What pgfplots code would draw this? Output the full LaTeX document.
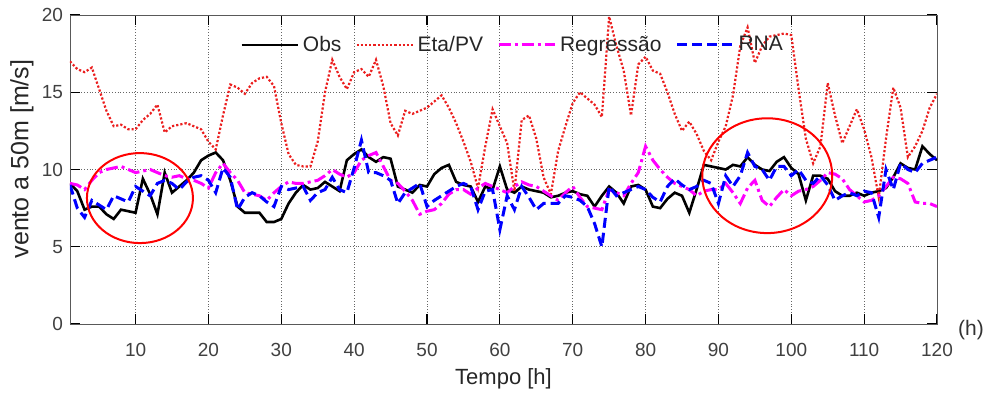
\documentclass[border=0pt]{standalone}
\usepackage{fontspec}
\setmainfont{Liberation Sans}
\usepackage{pgfplots}
\usepackage{pgfplotstable}
\pgfplotsset{compat=1.18}
\pgfplotstableread{
h obs eta reg rna
1 9.1 17.0 9.1 9.0
2 8.6 16.5 9.0 7.5
3 7.4 16.3 8.7 6.9
4 7.6 16.6 9.3 8.0
5 7.6 15.2 9.8 7.7
6 7.1 13.8 10.0 7.4
7 6.8 12.8 10.1 8.3
8 7.4 12.9 10.2 8.1
9 7.3 12.6 10.0 7.9
10 7.2 12.6 9.8 8.9
11 9.4 13.2 9.9 8.6
12 8.4 13.6 10.0 8.3
13 7.1 14.2 9.8 9.1
14 9.8 12.4 9.6 9.3
15 8.5 12.8 9.5 9.1
16 8.9 12.9 9.6 8.7
17 9.3 13.0 9.4 9.2
18 9.8 12.8 9.3 9.5
19 10.6 12.6 9.1 9.6
20 10.9 11.8 8.8 9.3
21 11.1 11.3 9.8 8.5
22 10.6 13.5 10.4 10.1
23 9.3 15.5 9.8 9.5
24 7.6 15.3 9.3 7.4
25 7.2 14.9 8.5 8.2
26 7.2 15.6 8.4 8.5
27 7.2 15.9 8.3 8.3
28 6.6 16.0 8.0 7.9
29 6.6 15.4 8.5 7.6
30 6.8 13.0 8.9 8.9
31 7.8 11.0 9.2 8.7
32 8.5 10.3 9.1 8.8
33 9.0 10.2 9.1 8.9
34 8.7 10.2 9.2 8.0
35 8.8 11.8 9.3 8.5
36 9.2 15.0 9.6 8.7
37 8.9 17.1 10.0 9.5
38 8.6 16.0 9.7 8.7
39 10.6 15.2 9.5 8.5
40 11.0 16.3 9.8 10.1
41 11.3 16.5 10.6 11.9
42 10.8 16.0 10.9 9.8
43 10.5 17.1 11.1 9.8
44 10.8 15.4 10.2 9.6
45 10.7 13.0 9.3 9.3
46 8.9 12.2 9.1 7.8
47 8.7 13.8 8.6 8.5
48 8.5 13.6 8.0 8.8
49 9.0 13.8 7.1 9.1
50 8.9 14.0 7.3 7.6
51 9.7 14.4 7.4 8.0
52 10.1 14.8 7.8 8.3
53 10.3 14.0 8.4 8.6
54 9.2 13.0 8.7 8.9
55 9.0 11.8 8.7 9.1
56 8.9 10.5 8.4 8.9
57 7.9 8.8 8.8 7.4
58 8.9 11.5 9.1 8.6
59 8.7 13.9 8.9 8.7
60 10.2 12.8 8.7 6.1
61 8.7 11.7 8.5 8.3
62 8.5 8.6 8.9 7.4
63 8.9 13.2 9.2 8.9
64 8.7 13.5 9.0 8.2
65 8.6 12.0 8.9 7.4
66 8.5 9.5 8.6 7.8
67 8.2 8.4 8.3 7.8
68 8.3 11.2 8.0 7.8
69 8.5 12.8 8.5 8.3
70 8.6 14.3 8.9 8.2
71 8.4 15.0 8.2 8.0
72 8.3 14.6 7.6 7.6
73 7.6 14.2 7.5 6.5
74 8.3 13.4 7.4 5.0
75 8.9 19.9 8.7 8.9
76 8.5 18.0 8.5 8.3
77 7.8 16.4 8.3 8.5
78 8.9 13.5 9.1 8.7
79 9.0 16.8 9.8 8.9
80 8.7 17.3 11.5 8.7
81 7.6 16.4 10.6 8.2
82 7.5 16.2 10.0 7.9
83 8.1 15.0 9.5 8.9
84 8.5 13.6 9.1 9.4
85 8.3 12.5 8.9 9.0
86 7.2 13.1 8.7 8.7
87 8.7 12.3 8.3 8.9
88 10.3 11.2 8.6 9.3
89 10.2 10.6 8.7 9.1
90 10.1 11.8 8.7 7.8
91 10.0 12.8 9.1 9.6
92 10.3 14.8 8.5 8.9
93 10.2 18.0 7.8 9.6
94 10.8 19.2 8.8 11.1
95 10.3 16.9 9.3 10.2
96 10.0 18.0 8.0 10.0
97 9.9 18.6 7.6 9.3
98 10.5 18.7 8.2 10.2
99 10.8 18.8 8.7 10.2
100 10.1 18.7 8.3 9.6
101 9.7 15.2 8.6 10.0
102 8.0 12.0 8.7 9.3
103 9.6 10.4 8.9 9.1
104 9.6 11.5 9.3 9.6
105 9.4 15.6 9.8 9.0
106 8.6 13.5 9.7 8.0
107 8.3 11.7 9.4 8.3
108 8.3 12.8 8.7 8.5
109 8.5 13.9 8.3 8.3
110 8.3 12.6 7.9 8.6
111 8.5 10.8 8.0 8.5
112 8.6 8.2 8.3 6.9
113 8.8 12.0 8.9 10.0
114 9.5 15.3 9.5 8.7
115 10.4 14.0 9.4 10.4
116 10.1 10.8 9.1 10.0
117 10.0 11.5 7.9 9.8
118 11.5 12.5 7.8 10.4
119 11.0 14.0 7.8 10.6
120 10.6 14.9 7.6 10.8
}\datatable
\definecolor{etared}{RGB}{235,30,30}
\definecolor{regmag}{RGB}{255,0,255}
\definecolor{rnablue}{RGB}{0,0,255}
\begin{document}
\begin{tikzpicture}
\begin{axis}[
  scale only axis,
  width=433.5pt, height=154.5pt,
  xmin=1, xmax=120, ymin=0, ymax=20,
  xtick={10,20,...,120},
  ytick={0,5,10,15,20},
  tick pos=both, tick align=inside,
  major tick length=5pt,
  axis line style={gray!70!black},
  tick style={black, line width=0.6pt},
  grid=major,
  major grid style={densely dotted, gray!80!black, line width=0.5pt},
  /pgf/number format/assume math mode=true,
  ticklabel style={font=\fontsize{9.5}{11}\selectfont, text=black!75},
  xticklabel style={yshift=-6pt},
  xlabel={Tempo [h]},
  ylabel={vento a 50m [m/s]},
  xlabel style={font=\fontsize{11}{13}\selectfont, text=black!85, at={(axis description cs:0.5,-0.178)}, anchor=center},
  ylabel style={font=\fontsize{12.5}{14}\selectfont, text=black!85, at={(axis description cs:-0.0554,0.534)}, anchor=center},
  legend columns=4,
  legend style={at={(0.196,0.903)}, anchor=west, draw=none, fill=none,
    font=\fontsize{10.5}{12}\selectfont, inner sep=0pt, text=black!85,
    /tikz/every even column/.append style={column sep=5pt}},
  legend image code/.code={\draw[#1] (0pt,0pt) -- (28pt,0pt);},
]
\addplot[black, line width=1.3pt] table[x=h, y=obs] {\datatable};
\addlegendentry{Obs}
\addplot[etared, densely dotted, line width=1.1pt] table[x=h, y=eta] {\datatable};
\addlegendentry{Eta/PV}
\addplot[regmag, dash pattern=on 6pt off 2pt on 1.5pt off 2pt, line width=1.5pt] table[x=h, y=reg] {\datatable};
\addlegendentry{Regressão}
\addplot[rnablue, dash pattern=on 5pt off 2.5pt, line width=1.5pt] table[x=h, y=rna] {\datatable};
\addlegendentry{RNA}
\draw[red, line width=1pt] (axis cs:10.6,8.15) ellipse [x radius=26.5pt, y radius=22.5pt];
\draw[red, line width=1pt] (axis cs:96.7,9.6) ellipse [x radius=32.5pt, y radius=28.7pt];
\end{axis}
\node[font=\fontsize{10.5}{12}\selectfont, text=black!80] at ([xshift=17pt, yshift=-3pt]current axis.south east) {(h)};
\pgfresetboundingbox
\path[use as bounding box] ([shift={(-35pt,-36.5pt)}]current axis.south west) rectangle ([shift={(23.5pt,7.5pt)}]current axis.north east);
\end{tikzpicture}
\end{document}
